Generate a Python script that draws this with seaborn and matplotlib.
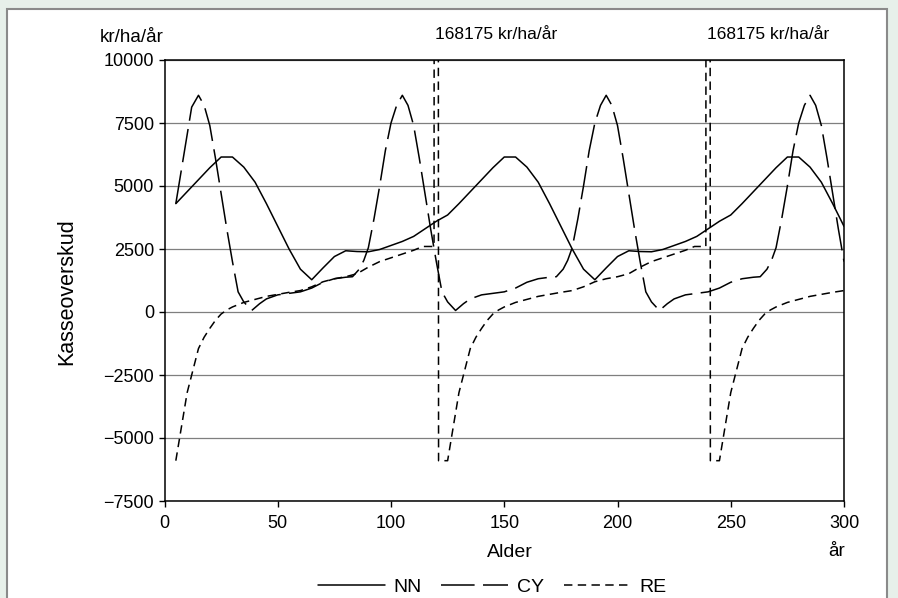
import matplotlib
matplotlib.use("Agg")
import matplotlib.pyplot as plt
import seaborn as sns
import pandas as pd
from matplotlib.patches import Rectangle

# ---------------- data ----------------
NN_AGE = list(range(5, 301, 5))
NN_VAL = [4300, 4775, 5250, 5725, 6150, 6150, 5750, 5150, 4300, 3400, 2500, 1700, 1280, 1750, 2200,
          2430, 2400, 2390, 2480, 2640, 2800, 3000, 3300, 3600, 3850,
          4300, 4775, 5250, 5725, 6150, 6150, 5750, 5150, 4300, 3400, 2500, 1700, 1280, 1750, 2200,
          2430, 2400, 2390, 2480, 2640, 2800, 3000, 3300, 3600, 3850,
          4300, 4775, 5250, 5725, 6150, 6150, 5750, 5150, 4300, 3400]

CY_AGE = [5, 12, 15, 17.5, 20, 22.5, 25, 27.5, 30, 32.5, 35, 38.5, 42, 45, 50, 55, 60, 65, 70, 75,
          80, 83, 86, 88, 90, 92.5, 95, 97.5, 100, 102.5,
          105, 107.5, 110, 112.5, 115, 117.5, 120, 122.5, 125, 128.5, 132, 135, 140, 145, 150, 155,
          160, 165, 170, 173, 176, 178, 180, 182.5, 185, 187.5, 190, 192.5,
          195, 197.5, 200, 202.5, 205, 207.5, 210, 212.5, 215, 218.5, 222, 225, 230, 235, 240, 245,
          250, 255, 260, 263, 266, 268, 270, 272.5, 275, 277.5, 280, 282.5,
          285, 287.5, 290, 292.5, 295, 297.5, 300]
CY_VAL = [4300, 8130, 8600, 8200, 7400, 6100, 4700, 3300, 2000, 800, 400, 60, 330, 520, 680, 740,
          800, 950, 1180, 1320, 1380, 1400, 1700, 2050, 2550, 3700, 5000, 6400, 7500, 8200,
          8600, 8200, 7400, 6100, 4700, 3300, 2000, 800, 400, 60, 330, 520, 680, 740, 800, 950,
          1180, 1320, 1380, 1400, 1700, 2050, 2550, 3700, 5000, 6400, 7500, 8200,
          8600, 8200, 7400, 6100, 4700, 3300, 2000, 800, 400, 60, 330, 520, 680, 740, 800, 950,
          1180, 1320, 1380, 1400, 1700, 2050, 2550, 3700, 5000, 6400, 7500, 8200,
          8600, 8200, 7400, 6100, 4700, 3300, 2000]

RE_AGE = [5, 10, 15, 17.5, 20, 22.5, 25, 27.5, 30, 35, 40, 45, 50, 55, 60, 65, 70, 75, 80, 85, 90,
          95, 100, 105, 110, 114, 119, 120, 121, 125,
          130, 135, 137.5, 140, 142.5, 145, 147.5, 150, 155, 160, 165, 170, 175, 180, 185, 190, 195,
          200, 205, 210, 215, 220, 225, 230, 234, 239, 240, 241, 245,
          250, 255, 257.5, 260, 262.5, 265, 267.5, 270, 275, 280, 285, 290, 295, 300]
RE_VAL = [-5900, -3200, -1450, -1000, -650, -330, -80, 80, 200, 380, 500, 620, 700, 780, 850, 1000,
          1200, 1320, 1400, 1520, 1780, 2000, 2150, 2300, 2450, 2600, 2600, 168175, -5900, -5900,
          -3200, -1450, -1000, -650, -330, -80, 80, 200, 380, 500, 620, 700, 780, 850, 1000, 1200,
          1320, 1400, 1520, 1780, 2000, 2150, 2300, 2450, 2600, 2600, 168175, -5900, -5900,
          -3200, -1450, -1000, -650, -330, -80, 80, 200, 380, 500, 620, 700, 780, 850]

SERIES = ["NN", "CY", "RE"]
X_TICKS = [0, 50, 100, 150, 200, 250, 300]
Y_TICKS = [-7500, -5000, -2500, 0, 2500, 5000, 7500, 10000]
SPIKE_AGES = [120, 240]
UNIT = "kr/ha/år"

# ---------------- styling ----------------
sns.set_theme(style="white")
plt.rcParams["font.family"] = ["Liberation Sans", "DejaVu Sans"]
plt.rcParams["axes.unicode_minus"] = True
for k in ["text.color", "axes.labelcolor", "xtick.color", "ytick.color"]:
    plt.rcParams[k] = "black"

fig = plt.figure(figsize=(8.98, 5.98), dpi=100, facecolor="#e7f0ea")
panel = Rectangle((7 / 898, -0.02), 880 / 898, 1.02 - 9 / 598, transform=fig.transFigure,
                  facecolor="white", edgecolor="#8a8a8a", linewidth=1.5, zorder=-10)
fig.patches.append(panel)

ax = fig.add_axes([164.5 / 898, (598 - 501) / 598, 679.5 / 898, 441 / 598])
ax.set_zorder(1)
ax.set_facecolor("white")

lw = 1.1
styles = {
    "NN": dict(linestyle="-"),
    "CY": dict(linestyle=(0, (22, 5.5))),
    "RE": dict(linestyle=(0, (5.5, 3.5))),
}
data = {"NN": (NN_AGE, NN_VAL), "CY": (CY_AGE, CY_VAL), "RE": (RE_AGE, RE_VAL)}
for name in SERIES:
    xs, ys = data[name]
    df = pd.DataFrame({"Alder": xs, "Kasseoverskud": ys})
    sns.lineplot(data=df, x="Alder", y="Kasseoverskud", ax=ax, color="black", linewidth=lw,
                 sort=False, estimator=None, label=name, **styles[name])

ax.set_xlim(0, 300)
ax.set_ylim(-7500, 10000)
ax.set_xticks(X_TICKS)
ax.set_yticks(Y_TICKS)
ax.grid(axis="y", color="#7f7f7f", linewidth=0.9)
ax.grid(axis="x", visible=False)
for sp in ax.spines.values():
    sp.set_visible(True)
    sp.set_color("black")
    sp.set_linewidth(1.1)
ax.tick_params(axis="both", direction="out", length=4, width=1, color="black",
               labelsize=13, left=True, bottom=True)
ax.tick_params(axis="y", pad=3.5)
ax.tick_params(axis="x", pad=6)

ax.set_xlabel("Alder", fontsize=14)
ax.xaxis.set_label_coords(0.508, -0.098)
ax.set_ylabel("Kasseoverskud", fontsize=15.5)
ax.yaxis.set_label_coords(-0.128, 0.475)

ax.text(-0.002, 1.052, UNIT, transform=ax.transAxes, ha="right", va="center", fontsize=13.5)
ax.text(0.9897, -0.115, "år", transform=ax.transAxes, ha="center", va="center", fontsize=13.5)
spike_val = max(RE_VAL)
for a in SPIKE_AGES:
    ax.text(a - 0.6, 1.057, f"{spike_val} {UNIT}", transform=ax.get_xaxis_transform(),
            ha="left", va="center", fontsize=12.5)

ax.get_legend().remove()
handles, labels = ax.get_legend_handles_labels()
fig.legend(handles, labels, loc="center", bbox_to_anchor=(0.548, 0.018), ncol=3, frameon=False,
           fontsize=14, handlelength=3.45, handletextpad=0.45, columnspacing=1.0)

fig.savefig("out.png", dpi=100, facecolor=fig.get_facecolor())
